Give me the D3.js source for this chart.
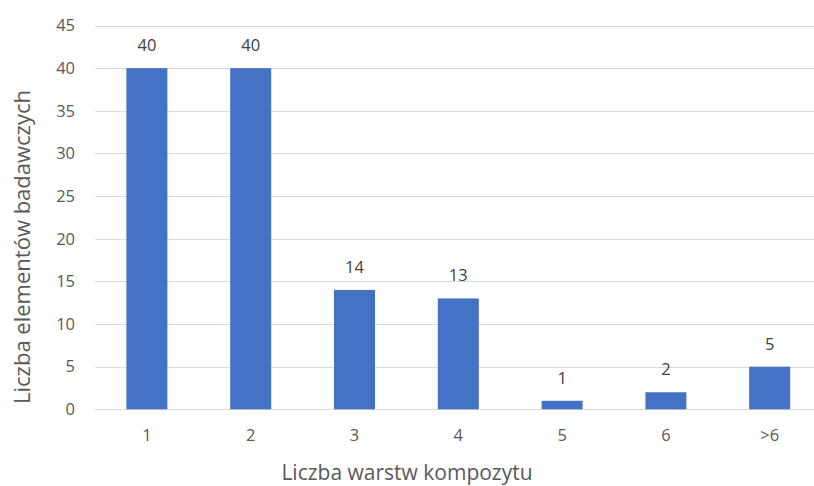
<!DOCTYPE html>
<html>
<head>
<meta charset="utf-8">
<script src="https://cdn.jsdelivr.net/npm/d3@7"></script>
<style>
  html, body { margin: 0; padding: 0; background: #fff; }
  svg { display: block; font-family: "Segoe UI", "Open Sans", sans-serif; }
</style>
</head>
<body>
<svg id="chart" width="814" height="486"></svg>
<script>
// Number of test specimens by number of composite layers
const categories = ["1", "2", "3", "4", "5", "6", ">6"];
const counts = [40, 40, 14, 13, 1, 2, 5];
const yTicks = [0, 5, 10, 15, 20, 25, 30, 35, 40, 45];

const svg = d3.select("#chart");
const plotLeft = 95, plotRight = 821.6, plotTop = 25.5, plotBottom = 409.3;

const x = d3.scaleBand().domain(categories).range([plotLeft, plotRight]).paddingInner(0.605).paddingOuter(0.3025);
const y = d3.scaleLinear().domain([0, 45]).range([plotBottom, plotTop]);

// horizontal gridlines
svg.append("g").selectAll("line").data(yTicks).join("line")
  .attr("x1", plotLeft).attr("x2", 814)
  .attr("y1", d => Math.round(y(d)) + 0.5).attr("y2", d => Math.round(y(d)) + 0.5)
  .attr("stroke", "#d9d9d9").attr("stroke-width", 1);

// y axis labels
const yAxis = svg.append("g").attr("transform", `translate(${plotLeft},0)`)
  .call(d3.axisLeft(y).tickValues(yTicks).tickSize(0).tickPadding(20));
yAxis.select(".domain").remove();
yAxis.selectAll("text").attr("font-size", 16.5).attr("fill", "#595959")
  .attr("font-family", "'Segoe UI', 'Open Sans', sans-serif");

// x axis labels
const xAxis = svg.append("g").attr("transform", `translate(0,${plotBottom})`)
  .call(d3.axisBottom(x).tickSize(0).tickPadding(20));
xAxis.select(".domain").remove();
xAxis.selectAll("text").attr("font-size", 16.5).attr("fill", "#595959")
  .attr("font-family", "'Segoe UI', 'Open Sans', sans-serif");

// bars
svg.append("g").selectAll("rect").data(categories).join("rect")
  .attr("x", d => x(d))
  .attr("width", x.bandwidth())
  .attr("y", (d, i) => y(counts[i]))
  .attr("height", (d, i) => y(0) - y(counts[i]))
  .attr("fill", "#4472c4");

// value labels
svg.append("g").selectAll("text").data(categories).join("text")
  .attr("x", d => x(d) + x.bandwidth() / 2)
  .attr("y", (d, i) => y(counts[i]) - 17)
  .attr("text-anchor", "middle")
  .attr("font-size", 16.5).attr("fill", "#404040")
  .text((d, i) => counts[i]);

// axis titles
svg.append("text")
  .attr("x", 407).attr("y", 480)
  .attr("text-anchor", "middle")
  .attr("font-size", 21).attr("fill", "#595959")
  .text("Liczba warstw kompozytu");

svg.append("text")
  .attr("transform", "translate(30,247) rotate(-90)")
  .attr("text-anchor", "middle")
  .attr("font-size", 22).attr("fill", "#595959")
  .text("Liczba elementów badawczych");
</script>
</body>
</html>
